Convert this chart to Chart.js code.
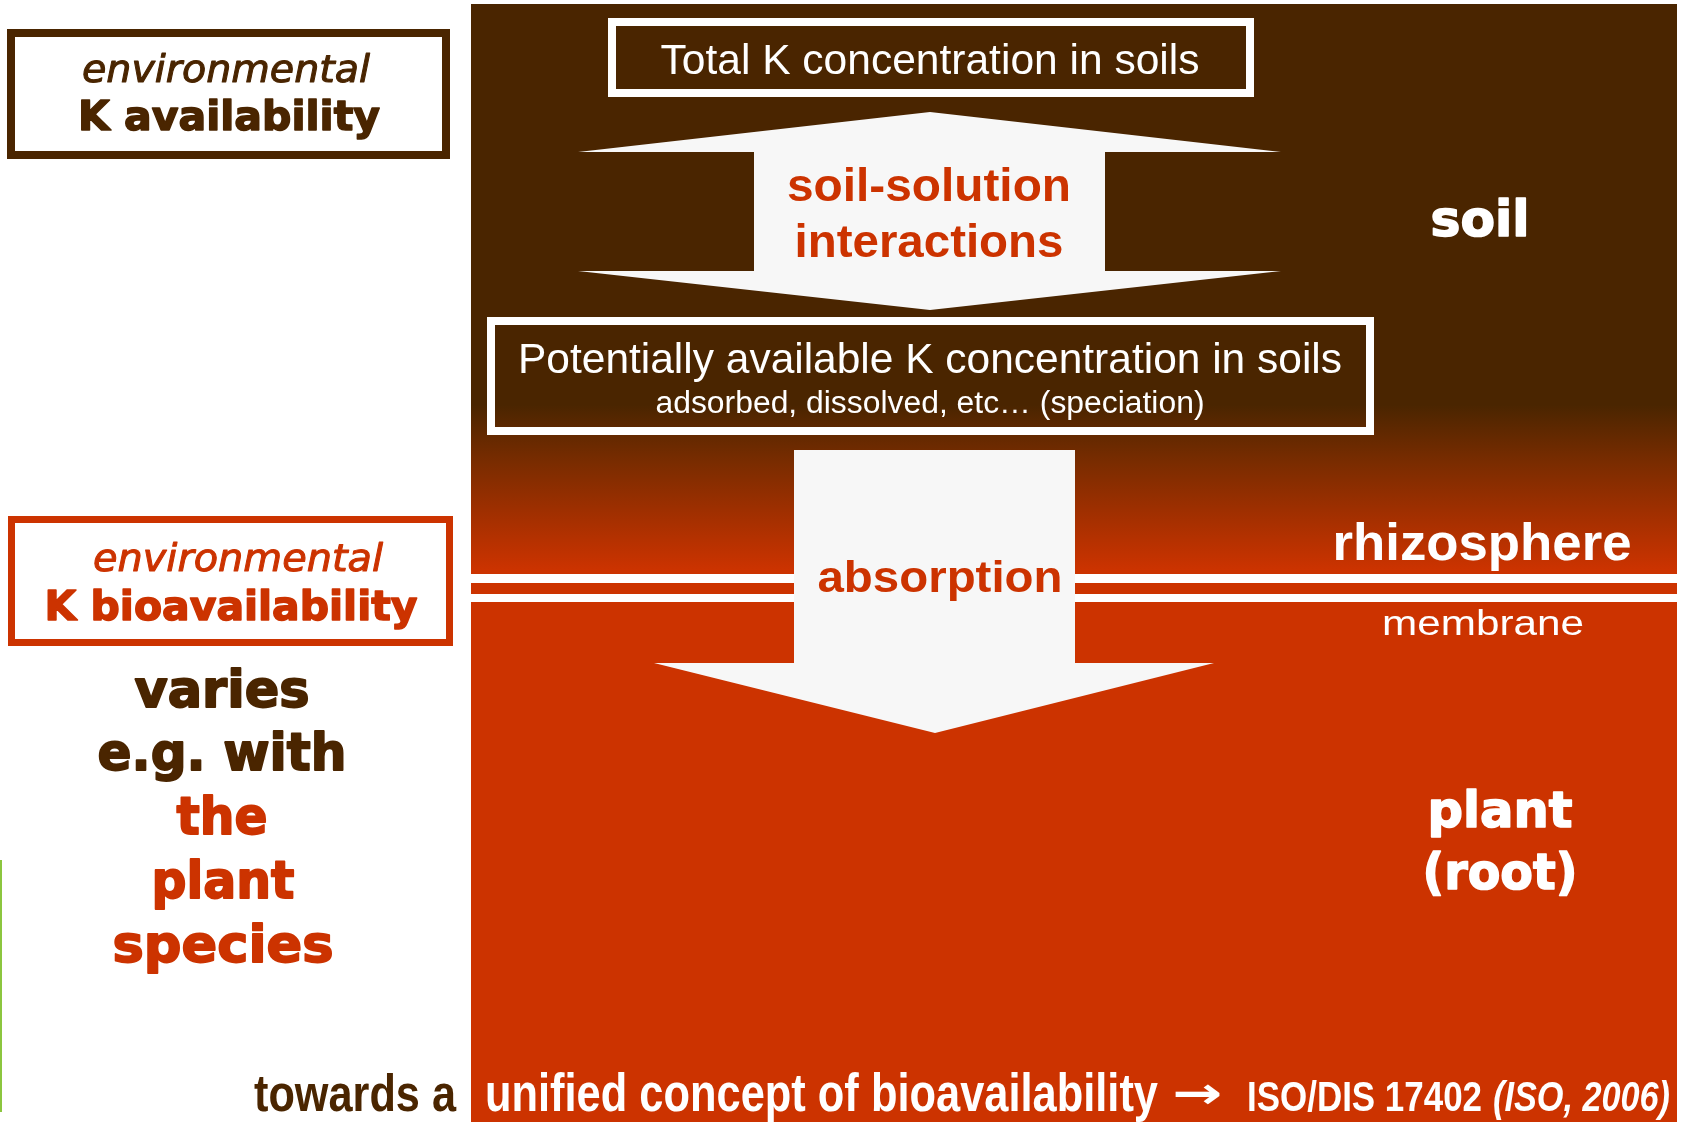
<!DOCTYPE html>
<html>
<head>
<meta charset="utf-8">
<script src="https://cdn.jsdelivr.net/npm/chart.js@4.4.1/dist/chart.umd.min.js"></script>
<style>
  html, body { margin: 0; padding: 0; background: #ffffff; }
  #wrap { width: 1681px; height: 1122px; }
</style>
</head>
<body>
<div id="wrap"><canvas id="c" width="1681" height="1122"></canvas></div>
<script>
// ---- texts of the diagram ----
const poolLabels = ['Total K concentration in soils',
                    'Potentially available K concentration in soils',
                    'adsorbed, dissolved, etc\u2026 (speciation)'];
const processLabels = ['soil-solution', 'interactions', 'absorption'];
const zoneLabels = ['soil', 'rhizosphere', 'membrane', 'plant', '(root)'];
const conceptLabels = ['environmental', 'K availability', 'environmental', 'K bioavailability'];
const variesLabels = ['varies', 'e.g. with', 'the', 'plant', 'species'];
const footerLabels = ['towards a', 'unified concept of bioavailability', '\u2192', 'ISO/DIS 17402', '(ISO, 2006)'];

// ---- colours ----
const BROWN = '#4a2500', RED = '#cc3300', WHITE = '#ffffff', ARROW = '#f7f7f7';

// ---- geometry (diagram units = reference pixels) ----
const panel = { x0: 471, x1: 1677, y0: 4, y1: 1122, gradFrom: 405, gradTo: 570 };
const membraneBands = [[574, 583], [594, 602]];
const boxes = [
  { x0: 608, x1: 1254, y0: 18, y1: 97, lw: 8, color: WHITE },
  { x0: 487, x1: 1374, y0: 317, y1: 435, lw: 8, color: WHITE },
  { x0: 7, x1: 450, y0: 29, y1: 159, lw: 8, color: BROWN },
  { x0: 8, x1: 453, y0: 516, y1: 646, lw: 7, color: RED }
];
const doubleArrow = [[930,112],[1281,152],[1105,152],[1105,271],[1281,271],[930,310],
                     [578,271],[754,271],[754,152],[578,152]];
const downArrow = [[794,450],[1075,450],[1075,663],[1214,663],[935,733],[654,663],[794,663]];

const LS = '"Liberation Sans", Arial, sans-serif';
const DV = '"DejaVu Sans", Verdana, sans-serif';
// text items: [label, x, baseline, font, colour, width, align, extra stroke]
const texts = [
  [poolLabels[0], 930, 74, '43px ' + LS, WHITE, 539, 'center', 0],
  [processLabels[0], 929, 201, 'bold 47px ' + LS, RED, 284, 'center', 0],
  [processLabels[1], 929, 257, 'bold 47px ' + LS, RED, 269, 'center', 0],
  [poolLabels[1], 930, 373, '42px ' + LS, WHITE, 824, 'center', 0],
  [poolLabels[2], 930, 413, '31px ' + LS, WHITE, 549, 'center', 0],
  [processLabels[2], 940, 592, 'bold 45px ' + LS, RED, 245, 'center', 0],
  [zoneLabels[0], 1480, 236, 'bold 50px ' + DV, WHITE, 99, 'center', 1.6],
  [zoneLabels[1], 1482, 560, 'bold 52px ' + LS, WHITE, 299, 'center', 0],
  [zoneLabels[2], 1483, 635, '35px ' + LS, WHITE, 202, 'center', 0],
  [zoneLabels[3], 1500, 827, 'bold 50px ' + DV, WHITE, 145, 'center', 1.6],
  [zoneLabels[4], 1500, 889, 'bold 50px ' + DV, WHITE, 155, 'center', 1.6],
  [conceptLabels[0], 226, 82, 'italic 37px ' + DV, BROWN, 288, 'center', 1.0],
  [conceptLabels[1], 229, 130, 'bold 41px ' + DV, BROWN, 302, 'center', 1.5],
  [conceptLabels[2], 238, 571, 'italic 37px ' + DV, RED, 290, 'center', 1.0],
  [conceptLabels[3], 231, 620, 'bold 41px ' + DV, RED, 373, 'center', 1.5],
  [variesLabels[0], 222, 707, 'bold 51px ' + DV, BROWN, 175, 'center', 1.8],
  [variesLabels[1], 222, 770, 'bold 51px ' + DV, BROWN, 249, 'center', 1.8],
  [variesLabels[2], 222, 834, 'bold 51px ' + DV, RED, 91, 'center', 1.8],
  [variesLabels[3], 223, 898, 'bold 51px ' + DV, RED, 143, 'center', 1.8],
  [variesLabels[4], 223, 962, 'bold 51px ' + DV, RED, 221, 'center', 1.8],
  [footerLabels[0], 254, 1111, 'bold 52px ' + LS, BROWN, 202, 'left', 0],
  [footerLabels[1], 485, 1111, 'bold 54px ' + LS, WHITE, 673, 'left', 0],
  [footerLabels[2], 1172, 1108, 'bold 44px ' + DV, WHITE, 50, 'left', 0],
  [footerLabels[3], 1247, 1111, 'bold 42px ' + LS, WHITE, 235, 'left', 0],
  [footerLabels[4], 1493, 1111, 'italic bold 42px ' + LS, WHITE, 177, 'left', 0]
];

const diagramPlugin = {
  id: 'diagram',
  beforeDatasetsDraw(chart) {
    const ctx = chart.ctx, sx = chart.scales.x, sy = chart.scales.y;
    const X = v => sx.getPixelForValue(v), Y = v => sy.getPixelForValue(v);
    ctx.save();
    // panel with gradient
    const g = ctx.createLinearGradient(0, Y(panel.gradFrom), 0, Y(panel.gradTo));
    g.addColorStop(0, BROWN);
    g.addColorStop(0.35, '#7a2c00');
    g.addColorStop(1, RED);
    ctx.fillStyle = g;
    ctx.fillRect(X(panel.x0), Y(panel.y0), X(panel.x1) - X(panel.x0), Y(panel.y1) - Y(panel.y0));
    // membrane
    ctx.fillStyle = WHITE;
    membraneBands.forEach(b => ctx.fillRect(X(panel.x0), Y(b[0]), X(panel.x1) - X(panel.x0), Y(b[1]) - Y(b[0])));
    // boxes
    boxes.forEach(b => {
      ctx.strokeStyle = b.color; ctx.lineWidth = b.lw;
      const h = b.lw / 2;
      ctx.strokeRect(X(b.x0) + h, Y(b.y0) + h, X(b.x1) - X(b.x0) - b.lw, Y(b.y1) - Y(b.y0) - b.lw);
    });
    // arrows
    [doubleArrow, downArrow].forEach(poly => {
      ctx.beginPath();
      poly.forEach((p, i) => i ? ctx.lineTo(X(p[0]), Y(p[1])) : ctx.moveTo(X(p[0]), Y(p[1])));
      ctx.closePath();
      ctx.fillStyle = ARROW; ctx.fill();
    });
    // green edge line
    ctx.fillStyle = '#8cc63f';
    ctx.fillRect(X(0), Y(860), 2, Y(1112) - Y(860));
    // texts
    ctx.textBaseline = 'alphabetic';
    texts.forEach(t => {
      const [s, x, y, font, col, w, align, sw] = t;
      ctx.font = font; ctx.fillStyle = col;
      const m = ctx.measureText(s).width;
      const k = w / m;
      ctx.save();
      ctx.translate(X(x), Y(y));
      ctx.scale(k, 1);
      ctx.textAlign = align;
      ctx.fillText(s, 0, 0);
      if (sw) {
        ctx.strokeStyle = col; ctx.lineWidth = sw; ctx.lineJoin = 'round';
        ctx.strokeText(s, 0, 0);
      }
      ctx.restore();
    });
    ctx.restore();
  }
};

new Chart(document.getElementById('c'), {
  type: 'scatter',
  data: { datasets: [{ data: [], pointRadius: 0 }] },
  options: {
    responsive: false,
    animation: false,
    layout: { padding: 0 },
    plugins: { legend: { display: false }, tooltip: { enabled: false } },
    scales: {
      x: { type: 'linear', min: 0, max: 1681, display: false },
      y: { type: 'linear', min: 0, max: 1122, reverse: true, display: false }
    }
  },
  plugins: [diagramPlugin]
});
</script>
</body>
</html>
